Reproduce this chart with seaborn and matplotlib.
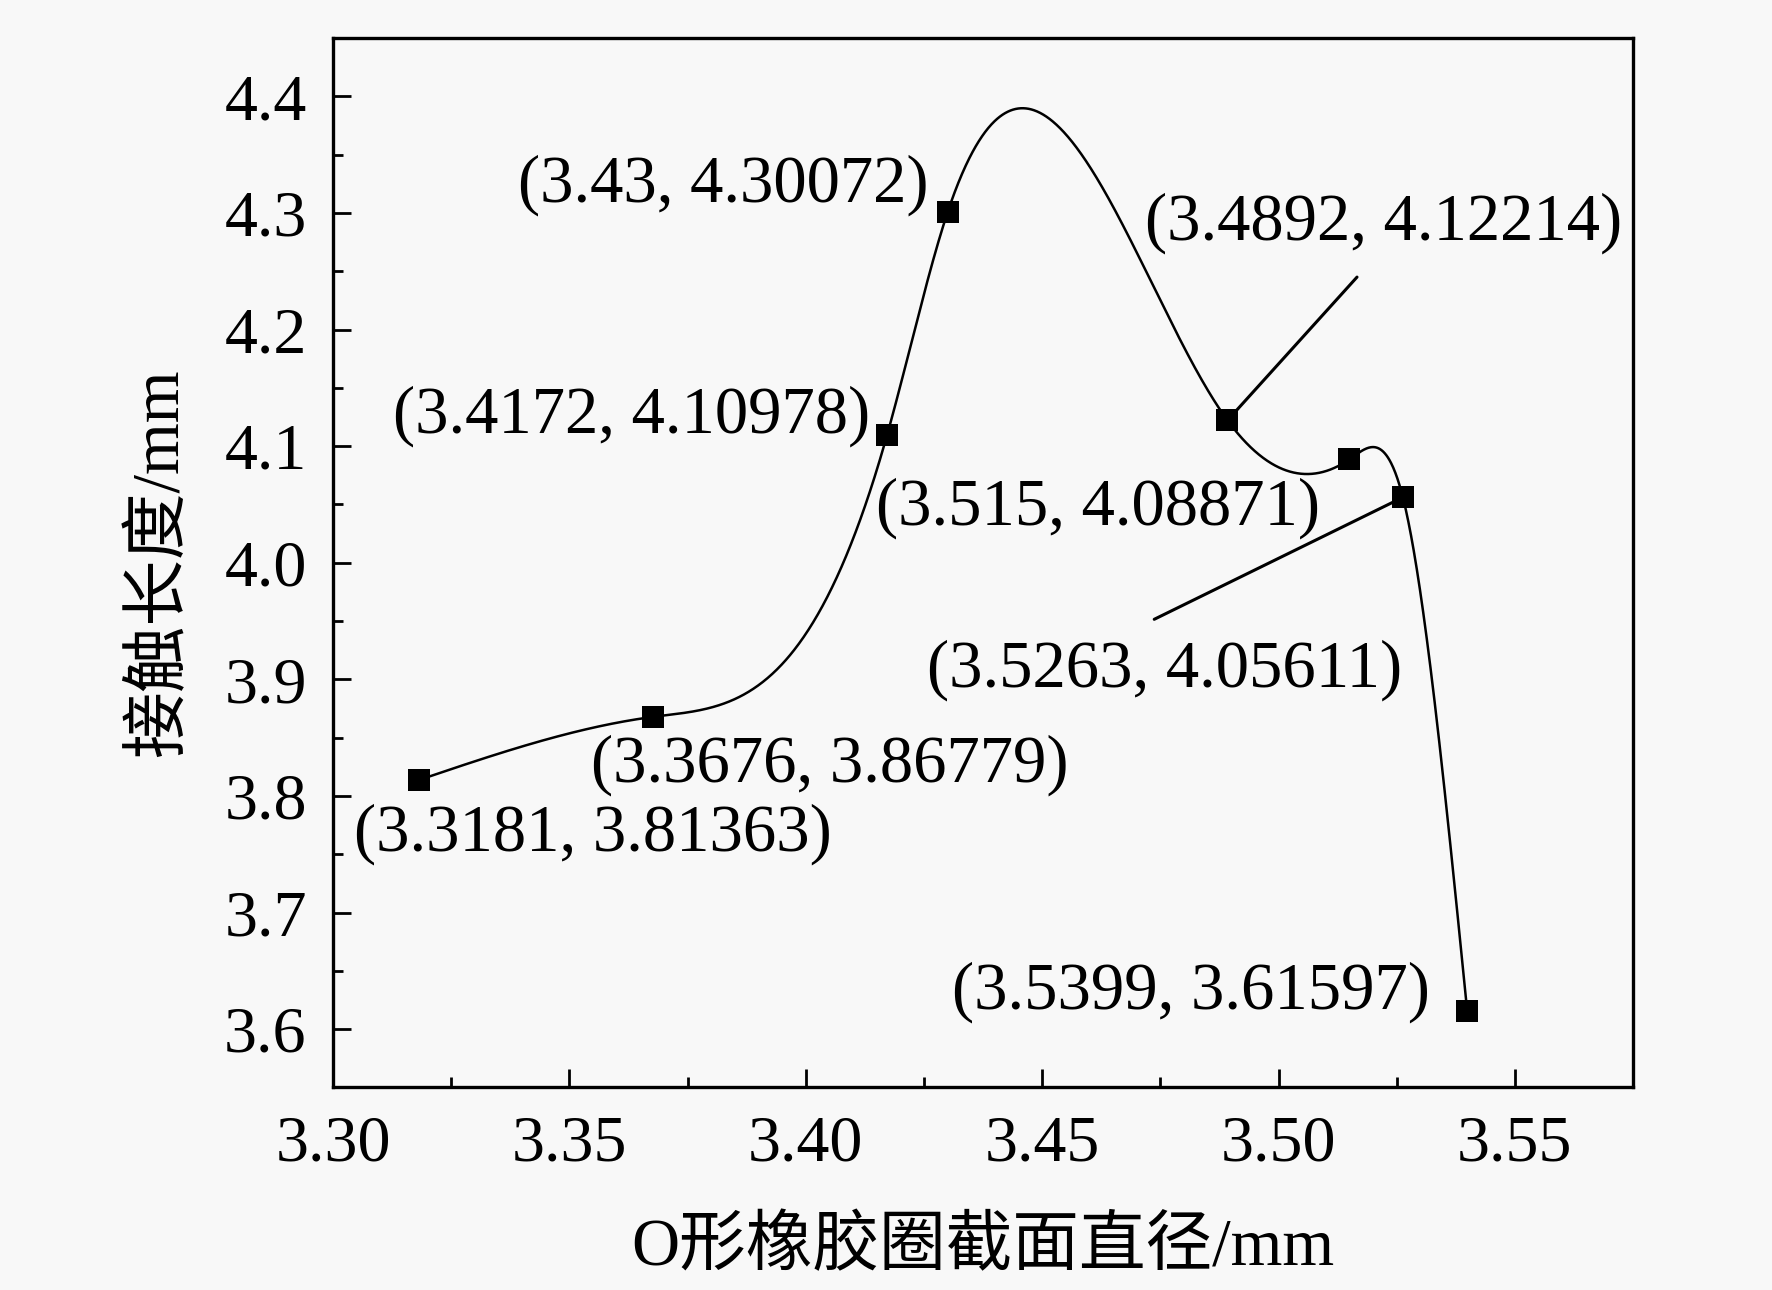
import numpy as np
import pandas as pd
import matplotlib
matplotlib.use("Agg")
import matplotlib.pyplot as plt
from matplotlib.ticker import MultipleLocator, FormatStrFormatter
import seaborn as sns

# ---- data ----
diameter = [3.3181, 3.3676, 3.4172, 3.43, 3.4892, 3.515, 3.5263, 3.5399]
contact_len = [3.81363, 3.86779, 4.10978, 4.30072, 4.12214, 4.08871, 4.05611, 3.61597]
labels = ["(3.3181, 3.81363)", "(3.3676, 3.86779)", "(3.4172, 4.10978)",
          "(3.43, 4.30072)", "(3.4892, 4.12214)", "(3.515, 4.08871)",
          "(3.5263, 4.05611)", "(3.5399, 3.61597)"]
label_pos = [(3.3549, 3.7668), (3.4050, 3.8261), (3.3632, 4.1259),
             (3.3826, 4.3235), (3.5223, 4.2909), (3.4617, 4.0469),
             (3.4758, 3.9077), (3.4815, 3.6319)]
leader_lines = [((3.4892, 4.12214), (3.5166, 4.245)),
                ((3.5263, 4.05611), (3.4737, 3.9515))]
xlabel = "O形橡胶圈截面直径/mm"
ylabel = "接触长度/mm"


def natural_spline(x, y, n=2000):
    x = np.asarray(x, float); y = np.asarray(y, float)
    k = len(x)
    h = np.diff(x)
    A = np.zeros((k, k)); b = np.zeros(k)
    A[0, 0] = 1; A[-1, -1] = 1
    for i in range(1, k - 1):
        A[i, i - 1] = h[i - 1]
        A[i, i] = 2 * (h[i - 1] + h[i])
        A[i, i + 1] = h[i]
        b[i] = 3 * ((y[i + 1] - y[i]) / h[i] - (y[i] - y[i - 1]) / h[i - 1])
    c = np.linalg.solve(A, b)
    xs = np.linspace(x[0], x[-1], n)
    idx = np.clip(np.searchsorted(x, xs) - 1, 0, k - 2)
    dx = xs - x[idx]
    bb = (y[idx + 1] - y[idx]) / h[idx] - h[idx] * (2 * c[idx] + c[idx + 1]) / 3
    dd = (c[idx + 1] - c[idx]) / (3 * h[idx])
    ys = y[idx] + bb * dx + c[idx] * dx ** 2 + dd * dx ** 3
    return xs, ys


sns.set_style("ticks")
plt.rcParams['font.family'] = ['Liberation Serif', 'Noto Sans CJK SC']
plt.rcParams['axes.unicode_minus'] = False
for key in ['text.color', 'axes.labelcolor', 'xtick.color', 'ytick.color',
            'xtick.labelcolor', 'ytick.labelcolor']:
    plt.rcParams[key] = 'black'

bg = '#f8f8f8'
fig = plt.figure(figsize=(17.72, 12.90), dpi=100, facecolor=bg)
ax = fig.add_axes([0.188, 0.157, 0.9216 - 0.188, 0.9705 - 0.157])
ax.set_facecolor(bg)

xs, ys = natural_spline(diameter, contact_len)
curve = pd.DataFrame({"x": xs, "y": ys})
pts = pd.DataFrame({"x": diameter, "y": contact_len})

sns.lineplot(data=curve, x="x", y="y", ax=ax, color='black', linewidth=1.8,
             sort=False, estimator=None)
sns.scatterplot(data=pts, x="x", y="y", ax=ax, marker='s', s=250,
                color='black', linewidth=0, zorder=5)

for (p0, p1) in leader_lines:
    ax.plot([p0[0], p1[0]], [p0[1], p1[1]], color='black', linewidth=2.2)

for t, (tx, ty) in zip(labels, label_pos):
    ax.text(tx, ty, t, fontsize=48, ha='center', va='center', color='black')

ax.set_xlim(3.30, 3.575)
ax.set_ylim(3.55, 4.45)
ax.xaxis.set_major_locator(MultipleLocator(0.05))
ax.xaxis.set_minor_locator(MultipleLocator(0.025))
ax.yaxis.set_major_locator(MultipleLocator(0.1))
ax.yaxis.set_minor_locator(MultipleLocator(0.05))
ax.xaxis.set_major_formatter(FormatStrFormatter('%.2f'))
ax.yaxis.set_major_formatter(FormatStrFormatter('%.1f'))

ax.tick_params(which='both', direction='in', top=False, right=False,
               labelsize=47.5, width=2.0, colors='black')
ax.tick_params(which='major', length=13)
ax.tick_params(which='minor', length=7)
ax.tick_params(axis='y', pad=19)
ax.tick_params(axis='x', pad=20)

for s in ax.spines.values():
    s.set_visible(True)
    s.set_linewidth(2.4)
    s.set_color('black')

ax.set_xlabel(xlabel, fontsize=48, labelpad=30, color='black')
ax.set_ylabel(ylabel, fontsize=48, labelpad=24, color='black')

fig.savefig("out.png", dpi=100, facecolor=bg)
